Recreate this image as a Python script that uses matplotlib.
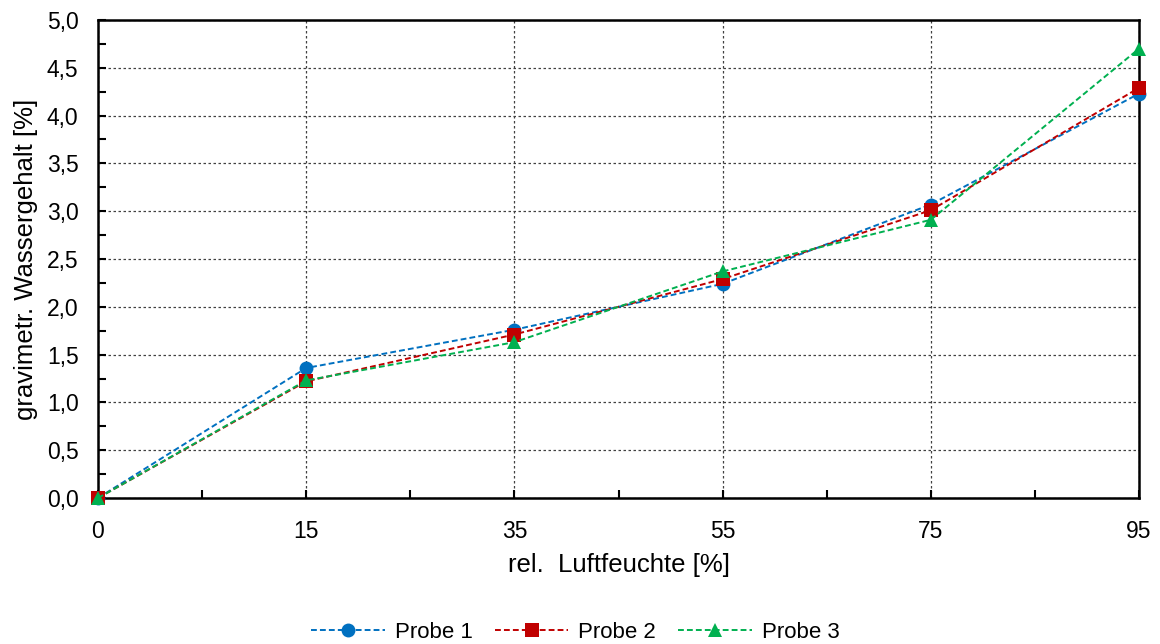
import matplotlib
matplotlib.use("Agg")
import matplotlib.pyplot as plt
from matplotlib.ticker import FixedLocator, MultipleLocator, FuncFormatter

plt.rcParams['font.family'] = ['Liberation Sans', 'DejaVu Sans']

# relative humidity steps (categories) and gravimetric water content [%]
humidity = ["0", "15", "35", "55", "75", "95"]
probe_1 = [0.00, 1.36, 1.76, 2.24, 3.07, 4.23]
probe_2 = [0.00, 1.22, 1.71, 2.29, 3.01, 4.29]
probe_3 = [0.00, 1.23, 1.63, 2.37, 2.91, 4.70]

series = [
    ("Probe 1", probe_1, "#0070C0", "o", 10),
    ("Probe 2", probe_2, "#C00000", "s", 9.5),
    ("Probe 3", probe_3, "#00B050", "^", 10.5),
]

fig = plt.figure(figsize=(11.6, 6.44), dpi=100)
ax = fig.add_axes([98 / 1160, 1 - 498 / 644, (1139 - 98) / 1160, (498 - 20) / 644])

x = list(range(len(humidity)))
for name, vals, color, marker, ms in series:
    ax.plot(x, vals, linestyle=(0, (3, 1.6)), linewidth=1.4, color=color,
            marker=marker, markersize=ms, markeredgewidth=0, label=name,
            clip_on=False, zorder=3)

ax.set_xlim(0, len(humidity) - 1)
ax.set_ylim(0, 5)
ax.xaxis.set_major_locator(FixedLocator(x))
ax.set_xticklabels(humidity)
ax.xaxis.set_minor_locator(FixedLocator([i + 0.5 for i in x[:-1]]))
ax.yaxis.set_major_locator(MultipleLocator(0.5))
ax.yaxis.set_minor_locator(MultipleLocator(0.25))
ax.yaxis.set_major_formatter(FuncFormatter(lambda v, p: f"{v:.1f}".replace(".", ",")))

ax.grid(True, which="major", linestyle=(0, (2, 2)), color="#404040", linewidth=0.9)
ax.set_axisbelow(True)

for s in ax.spines.values():
    s.set_linewidth(1.8)
    s.set_color("black")

ax.tick_params(axis="both", which="major", direction="in", length=6, width=1.5,
               labelsize=16.5, colors="black")
ax.tick_params(axis="both", which="minor", direction="in", length=6, width=1.5)
ax.tick_params(axis="x", which="major", pad=16)
ax.tick_params(axis="y", which="major", pad=14)
ax.tick_params(top=False, right=False, which="both")

ax.set_xlabel("rel.  Luftfeuchte [%]", fontsize=18.5, labelpad=7)
ax.set_ylabel("gravimetr. Wassergehalt [%]", fontsize=18.5, labelpad=6)

fig.legend(loc="center", bbox_to_anchor=(0.496, 1 - 632 / 644), ncol=3, frameon=False,
           fontsize=16, handlelength=3.3, columnspacing=1.0, handletextpad=0.45)

fig.savefig("out.png", dpi=100)
